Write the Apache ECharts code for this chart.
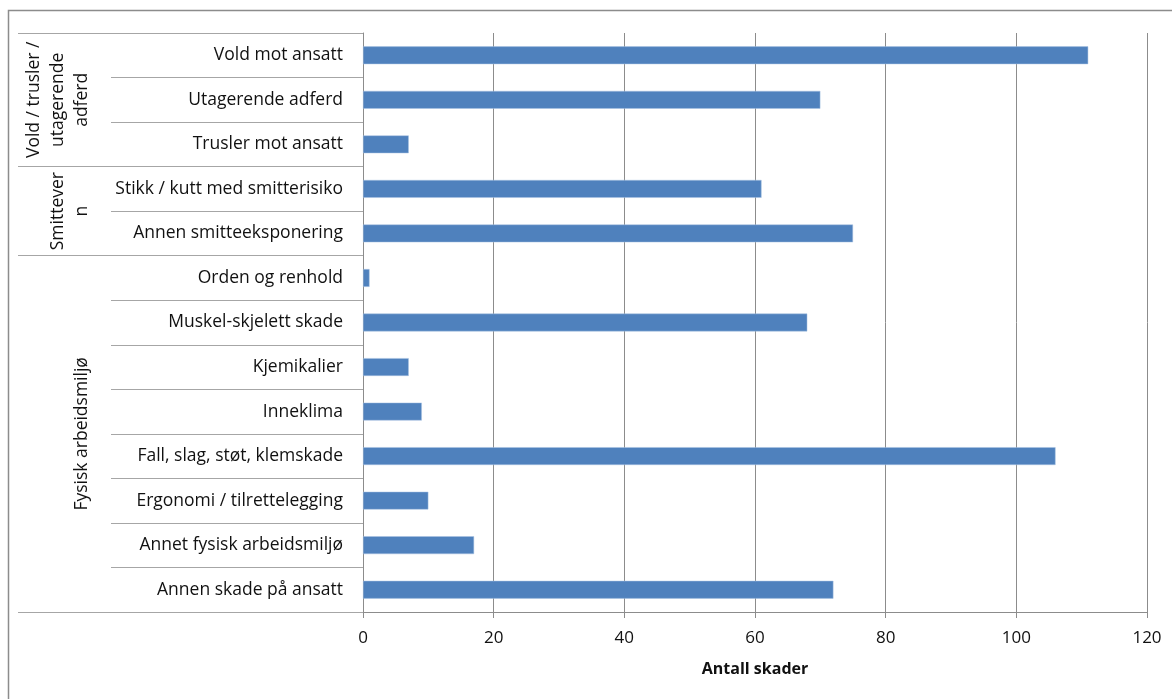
<!DOCTYPE html>
<html>
<head>
<meta charset="utf-8">
<script src="https://cdn.jsdelivr.net/npm/echarts@6/dist/echarts.min.js"></script>
<style>
html,body{margin:0;padding:0;background:#fff;}
#chart{width:1172px;height:699px;}
</style>
</head>
<body>
<div id="chart"></div>
<script>
// Data
const categories = [
  'Vold mot ansatt', 'Utagerende adferd', 'Trusler mot ansatt',
  'Stikk / kutt med smitterisiko', 'Annen smitteeksponering',
  'Orden og renhold', 'Muskel-skjelett skade', 'Kjemikalier', 'Inneklima',
  'Fall, slag, støt, klemskade', 'Ergonomi / tilrettelegging',
  'Annet fysisk arbeidsmiljø', 'Annen skade på ansatt'
];
const values = [111, 70, 7, 61, 75, 1, 68, 7, 9, 106, 10, 17, 72];
const groupLabels = ['Vold / trusler /\nutagerende\nadferd', 'Smittever\nn', 'Fysisk arbeidsmiljø'];
const groupStart = [0, 3, 5];
const groupEnd = [2, 4, 12];
const xTicks = [0, 20, 40, 60, 80, 100, 120];
const axisTitle = 'Antall skader';

const FONT = '"Open Sans", sans-serif';
const chart = echarts.init(document.getElementById('chart'), null, {renderer: 'canvas'});

const option = {
  animation: false,
  backgroundColor: '#fff',
  grid: {left: 363, right: 25, top: 33, bottom: 87, containLabel: false, outerBoundsMode: 'none'},
  xAxis: {
    type: 'value',
    min: xTicks[0],
    max: xTicks[xTicks.length - 1],
    interval: xTicks[1] - xTicks[0],
    axisLine: {show: true, lineStyle: {color: '#8c8c8c', width: 1}},
    axisTick: {show: true, length: 6, lineStyle: {color: '#8c8c8c'}},
    splitLine: {show: true, lineStyle: {color: '#8c8c8c', width: 1}},
    axisLabel: {fontFamily: FONT, fontSize: 17, color: '#111', margin: 18},
    name: axisTitle,
    nameLocation: 'middle',
    nameGap: 49,
    nameTextStyle: {fontFamily: FONT, fontSize: 16, fontWeight: 'bold', color: '#111'}
  },
  yAxis: [
    {
      type: 'category',
      inverse: true,
      data: categories,
      axisLine: {show: true, lineStyle: {color: '#8c8c8c', width: 1}},
      axisTick: {show: true, length: 252, lineStyle: {color: '#a6a6a6'}},
      axisLabel: {fontFamily: FONT, fontSize: 17.5, color: '#111', margin: 20, interval: 0},
      splitLine: {show: false}
    },
    {
      type: 'category',
      inverse: true,
      position: 'left',
      offset: 0,
      data: categories,
      axisLine: {show: false},
      axisLabel: {show: false},
      axisTick: {
        show: true,
        length: 345,
        interval: function (idx) { return groupStart.indexOf(idx) >= 0; },
        lineStyle: {color: '#a6a6a6'}
      },
      splitLine: {show: false}
    }
  ],
  series: [{
    type: 'bar',
    data: values,
    yAxisIndex: 0,
    barCategoryGap: '60%',
    itemStyle: {color: '#4f81bd', borderColor: '#a9c3e3', borderWidth: 0.5}
  }]
};
chart.setOption(option);

function drawGroups() {
  const els = [{
    type: 'rect',
    shape: {x: 8.5, y: 10.5, width: 1200, height: 720},
    style: {fill: 'none', stroke: '#8c8c8c', lineWidth: 1.5},
    silent: true
  }];
  for (let g = 0; g < groupLabels.length; g++) {
    const y1 = chart.convertToPixel({yAxisIndex: 0}, categories[groupStart[g]]);
    const y2 = chart.convertToPixel({yAxisIndex: 0}, categories[groupEnd[g]]);
    els.push({
      type: 'text',
      x: 94,
      y: (y1 + y2) / 2,
      rotation: Math.PI / 2,
      style: {
        text: groupLabels[g],
        fontFamily: FONT,
        fontSize: 17.5,
        lineHeight: 24,
        fill: '#111',
        align: 'center',
        verticalAlign: 'bottom'
      },
      silent: true
    });
  }
  chart.setOption({graphic: els});
}
drawGroups();
</script>
</body>
</html>
